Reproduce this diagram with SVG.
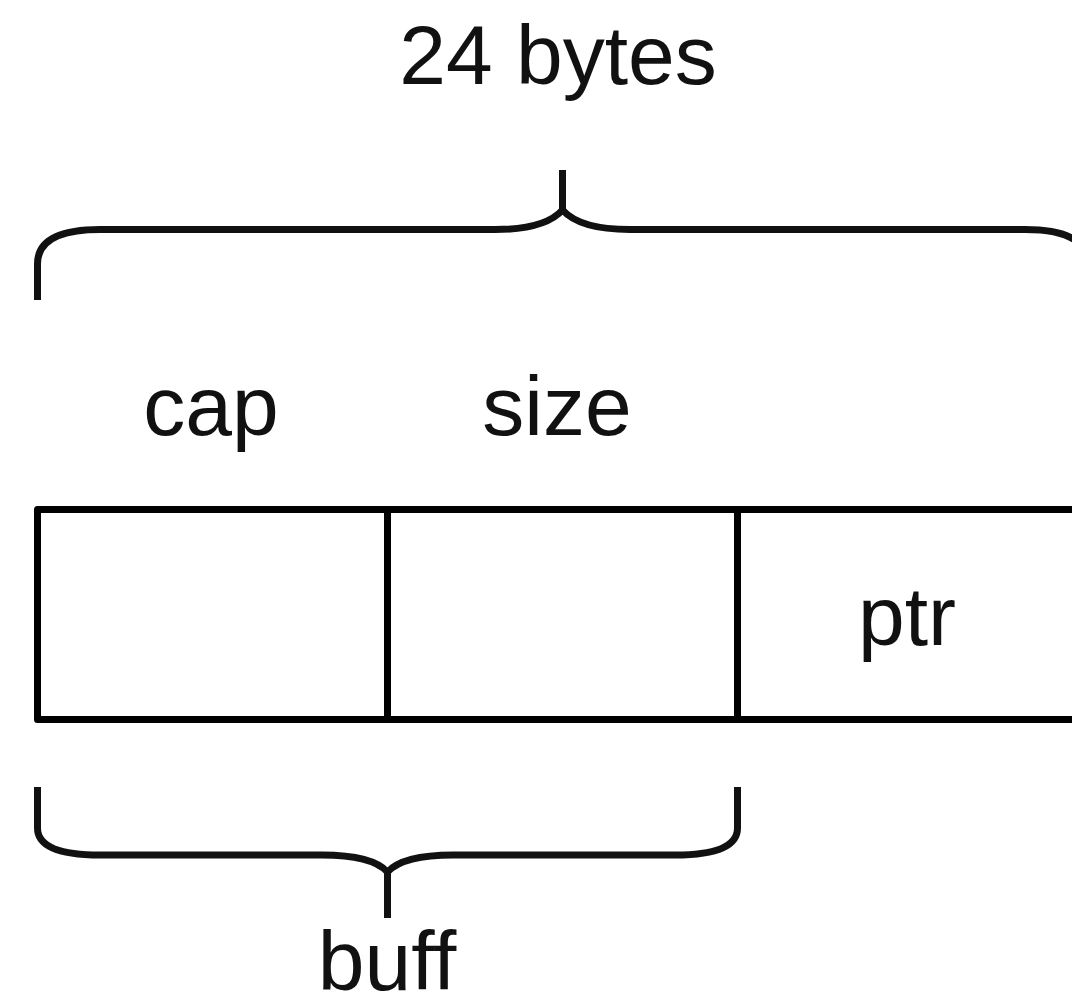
<svg xmlns="http://www.w3.org/2000/svg" width="1072" height="997" viewBox="0 0 1072 997">
<style>
.ln{fill:none;stroke:#000;stroke-width:7;stroke-linejoin:round}
.br{fill:none;stroke:#111;stroke-width:7;stroke-linecap:butt}
.t{font-family:"Liberation Sans",Arial,sans-serif;font-size:84px;fill:#111;text-anchor:middle}
</style>
<rect width="1072" height="997" fill="#fff"/>
<g id="top-brace">
<path class="br" d="M37.5 300 L37.5 264 Q37.5 229.5 100 229.5 L495 229.5 Q545 229.5 562.5 210 Q580 229.5 630 229.5 L1025 229.5 Q1087.5 229.5 1087.5 264 L1087.5 300"/>
<path class="br" d="M562.5 170 L562.5 212"/>
<text class="t" x="558" y="84">24 bytes</text>
</g>
<g id="cap-label"><text class="t" x="211" y="435">cap</text></g>
<g id="size-label"><text class="t" x="557" y="435">size</text></g>
<g id="struct">
<rect class="ln" x="37.5" y="509.5" width="1050" height="210"/>
<line class="ln" x1="387.5" y1="509.5" x2="387.5" y2="719.5"/>
<line class="ln" x1="737.5" y1="509.5" x2="737.5" y2="719.5"/>
<text class="t" x="907" y="645">ptr</text>
</g>
<g id="bottom-brace">
<path class="br" d="M37.5 787 L37.5 828 Q37.5 855 100 855 L322 855 Q372 855 387.5 872 Q403 855 453 855 L675 855 Q737.5 855 737.5 828 L737.5 787"/>
<path class="br" d="M387.5 870 L387.5 918"/>
<text class="t" x="387" y="990">buff</text>
</g>
</svg>
